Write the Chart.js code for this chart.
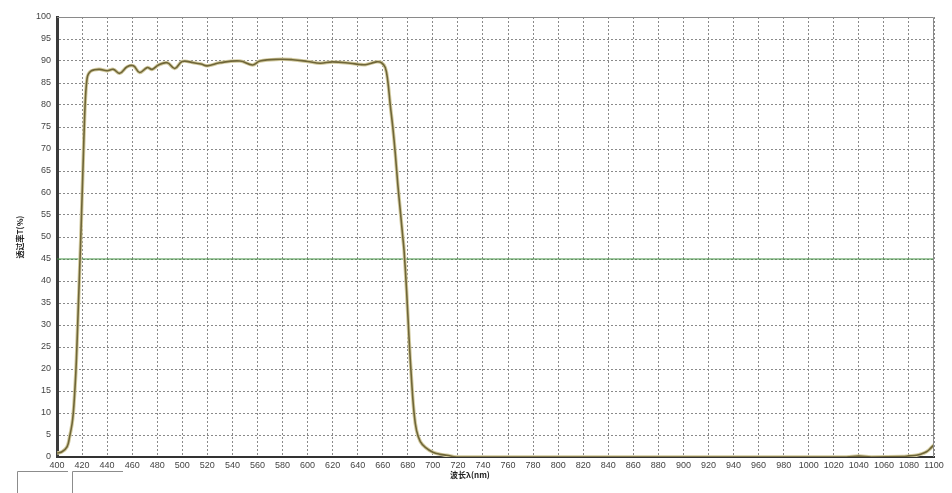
<!DOCTYPE html>
<html>
<head>
<meta charset="utf-8">
<script src="https://cdn.jsdelivr.net/npm/chart.js@4/dist/chart.umd.min.js"></script>
<style>
  body { margin: 0; background: #fff; }
  #chart { display: block; }
</style>
</head>
<body>
<canvas id="chart" width="952" height="493"></canvas>
<script>
// wavelength (nm) and transmission (%)
const wavelengths = [
  400, 404, 408, 410, 412, 413, 414, 415, 416, 417, 418, 419, 420, 421, 422, 423, 424, 425, 427,
  430, 434, 440, 445, 450, 456, 461, 466, 472, 476, 481, 488, 494, 500, 509, 515, 520, 530,
  546, 556, 562, 578, 588, 600, 610, 620, 634, 642, 647, 655, 659, 662, 664, 666, 668, 670,
  672, 674, 676, 677, 679, 681, 683, 685, 687, 690, 694, 700, 706, 711, 719, 740, 1030, 1040, 1050,
  1075, 1080, 1086, 1090, 1094, 1097, 1100
];
const transmission = [
  0.9, 1.2, 2.3, 4.5, 7.5, 10, 14, 19, 26, 34, 42, 50, 59, 68, 77, 83, 86, 87, 87.7,
  88, 88.1, 87.8, 88.1, 87.2, 88.7, 88.9, 87.4, 88.5, 88.1, 89.1, 89.6, 88.3, 89.9, 89.6, 89.3, 88.9, 89.6,
  90, 89.1, 90, 90.4, 90.3, 89.9, 89.5, 89.8, 89.5, 89.2, 89.2, 89.8, 89.6, 88.5, 85.5, 80, 75, 69,
  62, 56, 50, 47, 38, 27, 17.5, 10, 6, 3.5, 2.2, 1.1, 0.6, 0.4, 0, 0, 0, 0.2, 0,
  0.1, 0.25, 0.4, 0.7, 1.2, 1.9, 2.8
];
const refLevel = 45;
const xRange = [400, 1100];
const yRange = [0, 100];
const xTitle = "波长λ(nm)";
const yTitle = "透过率T(%)";

const curve = wavelengths.map((w, i) => ({ x: w, y: transmission[i] }));
const refLine = xRange.map(w => ({ x: w, y: refLevel }));

const framePlugin = {
  id: "frame",
  afterDraw(chart) {
    const { ctx, chartArea: a } = chart;
    ctx.save();
    // top / right frame
    ctx.strokeStyle = "#8a8a8a";
    ctx.lineWidth = 1;
    ctx.beginPath();
    ctx.moveTo(a.left, a.top + 0.5);
    ctx.lineTo(a.right - 0.5, a.top + 0.5);
    ctx.lineTo(a.right - 0.5, a.bottom);
    ctx.stroke();

    // axis titles
    ctx.fillStyle = "#222";
    ctx.font = "bold 8px 'Noto Sans CJK SC'";
    ctx.textAlign = "center";
    ctx.textBaseline = "middle";
    ctx.fillText(xTitle, 470, 475);
    ctx.translate(20, 237);
    ctx.rotate(-Math.PI / 2);
    ctx.fillText(yTitle, 0, 0);
    ctx.restore();

    // leftover window brackets at the bottom
    ctx.save();
    ctx.strokeStyle = "#8c8c8c";
    ctx.lineWidth = 1;
    ctx.beginPath();
    ctx.moveTo(17.5, 493); ctx.lineTo(17.5, 471.5); ctx.lineTo(68, 471.5);
    ctx.moveTo(72.5, 493); ctx.lineTo(72.5, 471.5); ctx.lineTo(123, 471.5);
    ctx.stroke();
    ctx.restore();
  }
};

const tickFont = { family: "'Liberation Sans'", size: 9 };

new Chart(document.getElementById("chart"), {
  type: "line",
  data: {
    datasets: [
      {
        data: refLine,
        borderColor: "#3f8f3f",
        borderWidth: 1,
        pointRadius: 0,
        order: 3
      },
      {
        data: curve,
        borderColor: "#d3cba0",
        borderWidth: 3.5,
        pointRadius: 0,
        tension: 0.4,
        order: 2
      },
      {
        data: curve,
        borderColor: "#6f6638",
        borderWidth: 1.6,
        pointRadius: 0,
        tension: 0.4,
        order: 1
      }
    ]
  },
  options: {
    responsive: false,
    animation: false,
    layout: { padding: { top: 17, right: 18, left: 0, bottom: 0 } },
    plugins: {
      legend: { display: false },
      tooltip: { enabled: false }
    },
    scales: {
      x: {
        type: "linear",
        min: xRange[0],
        max: xRange[1],
        afterFit: s => { s.height = 36; },
        ticks: {
          stepSize: 20,
          padding: 3,
          maxRotation: 0,
          autoSkip: false,
          color: "#444",
          font: tickFont,
          callback: v => String(v)
        },
        grid: { color: "#8a8a8a", drawTicks: false },
        border: { color: "#333", width: 2, dash: [2, 2] }
      },
      y: {
        min: yRange[0],
        max: yRange[1],
        afterFit: s => { s.width = 57; },
        ticks: {
          stepSize: 5,
          padding: 6,
          color: "#444",
          font: tickFont,
          callback: v => String(v)
        },
        grid: { color: "#8a8a8a", drawTicks: false },
        border: { color: "#3a3a3a", width: 3, dash: [2, 2] }
      }
    }
  },
  plugins: [framePlugin]
});
</script>
</body>
</html>
